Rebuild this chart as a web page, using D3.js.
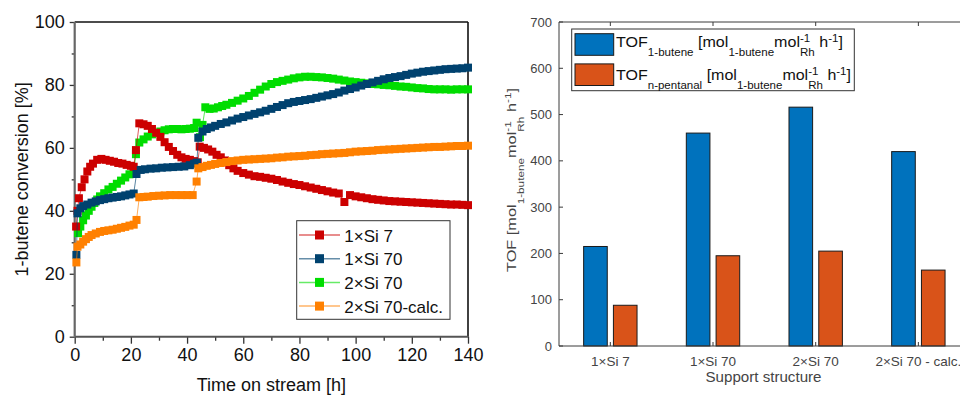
<!DOCTYPE html>
<html>
<head>
<meta charset="utf-8">
<script src="https://cdn.jsdelivr.net/npm/d3@7"></script>
<style>
  body { margin: 0; background: #fff; }
  text { font-family: "Liberation Sans", Arial, sans-serif; white-space: pre; }
</style>
</head>
<body>
<script>
// time on stream [h], conversion [%]
const si7 = [
  [0.5,35],[1,40],[1.5,44],[2.5,47.5],[3.5,50],[4.5,52.5],[5.5,54],[6.5,55],[8,56.2],[9.5,56.5],[11,56.2],[12.5,55.9],[14,55.6],[15.5,55.2],[17,55],[18.5,54.6],[20,54.3],[21,54],
  [21.8,59.3],[23,67.8],[24.5,67.5],[26,67],[27.5,66],[29,64.8],[30.5,63.5],[32,61.8],[33.5,60.3],[35,59],[36.5,57.8],[38,57],[39.5,56.5],[41,56.2],[42.5,55.8],[43.8,55.4],
  [44.5,60.4],[46,60],[47.5,59.5],[49,58.8],[50.5,57.8],[52,57],[53.5,56],[55,54.5],[56.5,53.5],[58,52.7],[60,52],[62,51.5],[64,51],[66,50.8],[68,50.5],[70,50.2],[72,49.8],[74,49.3],[76,48.9],[78,48.5],[80,48.2],[82,47.8],[84,47.4],[86,47],[88,46.6],[90,46.2],[92,45.8],[94,45.5],[96,42.8],[98,45],[100,44.6],[102,44.3],[104,44],[106,43.7],[108,43.5],[110,43.3],[112,43.1],[114,43],[116,42.9],[118,42.8],[120,42.7],[122,42.6],[124,42.5],[126,42.4],[128,42.3],[130,42.2],[132,42.1],[134,42],[136,42],[138,41.9],[140,41.8]
];
const si70 = [
  [0.6,26],[1,39.2],[2,40.8],[3,41.5],[4.5,42],[6,42.6],[7.5,43],[9,43.4],[10.5,43.7],[12,44],[13.5,44.2],[15,44.4],[16.5,44.6],[18,44.9],[19.5,45.2],[21,45.5],
  [22,51.7],[23.5,53],[25,53.2],[27,53.4],[29,53.5],[31,53.7],[33,53.8],[35,53.9],[37,54],[39,54.1],[41,54.5],[42.5,55],[43.5,55.3],
  [44,63.2],[45.5,65.2],[47,66],[48.5,66.5],[50,67],[52,67.6],[54,68.1],[56,68.7],[58,69.3],[60,69.8],[62,70.3],[64,70.8],[66,71.3],[68,71.8],[70,72.4],[72,73],[74,73.6],[76,74.2],[78,74.6],[80,74.9],[82,75.2],[84,75.5],[86,75.9],[88,76.3],[90,76.7],[92,77.1],[94,77.6],[96,78.2],[98,78.7],[100,79.2],[102,79.8],[104,80.3],[106,80.8],[108,81.3],[110,81.8],[112,82.2],[114,82.5],[116,82.8],[118,83.2],[120,83.6],[122,83.9],[124,84.2],[126,84.4],[128,84.6],[130,84.8],[132,85],[134,85.1],[136,85.2],[138,85.3],[140,85.5]
];
const si70x2 = [
  [1.2,32.9],[2,35],[3,37],[4,38.5],[5,40],[6,41.3],[7,42.5],[8,43.6],[9,44.6],[10.5,45.6],[12,46.8],[13.5,47.6],[15,48.6],[16.5,49.6],[18,50.6],[19.5,51.6],[21,52.6],
  [21.8,58],[23,61.7],[24.5,62.7],[26,63.6],[27.5,64.3],[29,64.8],[30.5,65.2],[32,65.6],[33.5,65.9],[35,66],[36.5,66],[38,65.9],[39.5,66],[41,66.1],[42.5,66.3],[43.4,68],
  [44.6,63.4],[45.5,67.3],[46.5,72.9],[48,72.4],[49.5,72.5],[51,72.9],[52.5,73.3],[54,73.7],[56,74.3],[58,75],[60,75.7],[62,76.5],[64,77.5],[66,78.5],[68,79.5],[70,80.3],[72,80.9],[74,81.3],[76,81.7],[78,82.1],[80,82.4],[82,82.6],[84,82.6],[86,82.5],[88,82.4],[90,82.2],[92,82],[94,81.7],[96,81.4],[98,81.1],[100,80.9],[102,80.7],[104,80.5],[106,80.3],[108,80.2],[110,80],[112,79.9],[114,79.7],[116,79.5],[118,79.4],[120,79.2],[122,79],[124,78.9],[126,78.7],[128,78.6],[130,78.6],[132,78.6],[134,78.5],[136,78.6],[138,78.6],[140,78.6]
];
const si70calc = [
  [0.6,23.6],[1,28.6],[2,29.3],[3,30.2],[4,31],[5,31.7],[6,32.3],[7.5,32.8],[9,33.3],[10.5,33.6],[12,33.8],[13.5,34],[15,34.3],[16.5,34.6],[18,34.9],[19.5,35.3],[21,35.6],[22,37.1],
  [23,44.3],[24.5,44.4],[26,44.5],[28,44.7],[30,44.8],[32,44.9],[34,45],[36,45],[38,45],[40,45],[42,45],[43.4,49.3],
  [44,53.5],[45.5,53.9],[47,54.3],[48.5,54.6],[50,54.9],[52,55.2],[54,55.5],[56,55.8],[58,56],[60,56.2],[62,56.3],[64,56.4],[66,56.5],[68,56.6],[70,56.7],[72,56.9],[74,57],[76,57.2],[78,57.3],[80,57.4],[82,57.5],[84,57.7],[86,57.8],[88,58],[90,58.1],[92,58.2],[94,58.3],[96,58.4],[98,58.6],[100,58.8],[102,58.9],[104,59],[106,59.1],[108,59.3],[110,59.4],[112,59.5],[114,59.6],[116,59.7],[118,59.8],[120,59.9],[122,60],[124,60.1],[126,60.2],[128,60.3],[130,60.3],[132,60.4],[134,60.5],[136,60.6],[138,60.6],[140,60.7]
];
const seriesNames = ["1\u00d7Si 7", "1\u00d7Si 70", "2\u00d7Si 70", "2\u00d7Si 70-calc."];
const seriesColors = ["#cc0000", "#00426f", "#00dd00", "#ff8000"];

// bar chart
const supports = ["1\u00d7Si 7", "1\u00d7Si 70", "2\u00d7Si 70", "2\u00d7Si 70 - calc."];
const tofButene = [215, 460, 516, 420];
const tofPentanal = [88, 195, 205, 164];
const barColors = ["#0072bd", "#d95319"];

const svg = d3.select("body").append("svg")
  .attr("width", 960).attr("height", 396);

// ---------- left: conversion vs time ----------
const x = d3.scaleLinear().domain([0, 140]).range([74.7, 468]);
const y = d3.scaleLinear().domain([0, 100]).range([336.7, 22]);

const left = svg.append("g");

const xAxis = left.append("g").attr("transform", `translate(0,${y(0)})`)
  .call(d3.axisBottom(x).tickValues(d3.range(0, 141, 20)).tickSize(7).tickPadding(5));
left.append("g").attr("transform", `translate(0,${y(0)})`)
  .call(d3.axisBottom(x).tickValues(d3.range(10, 140, 20)).tickSize(4).tickFormat(""));
const yAxis = left.append("g").attr("transform", `translate(${x(0)},0)`)
  .call(d3.axisLeft(y).tickValues(d3.range(0, 101, 20)).tickSize(5).tickPadding(5));
left.append("g").attr("transform", `translate(${x(0)},0)`)
  .call(d3.axisLeft(y).tickValues(d3.range(10, 100, 20)).tickSize(3).tickFormat(""));
left.selectAll(".domain").remove();
left.selectAll(".tick line").attr("stroke", "#333").attr("stroke-width", 1.3);
left.selectAll(".tick text").attr("font-size", 18).attr("fill", "#111")
  .style("font-family", "'Liberation Sans', Arial, sans-serif");

// frame
left.append("line").attr("x1", x(0)).attr("x2", x(140)).attr("y1", y(100)).attr("y2", y(100))
  .attr("stroke", "#111").attr("stroke-width", 1.4);
left.append("line").attr("x1", x(140)).attr("x2", x(140)).attr("y1", y(100)).attr("y2", y(0))
  .attr("stroke", "#111").attr("stroke-width", 1.6);
left.append("line").attr("x1", x(0)).attr("x2", x(140)).attr("y1", y(0)).attr("y2", y(0))
  .attr("stroke", "#555").attr("stroke-width", 2);
left.append("line").attr("x1", x(0)).attr("x2", x(0)).attr("y1", y(100)).attr("y2", y(0))
  .attr("stroke", "#666").attr("stroke-width", 2.2);

left.append("text").attr("x", (x(0) + x(140)) / 2).attr("y", 391)
  .attr("text-anchor", "middle").attr("font-size", 18).attr("fill", "#111")
  .text("Time on stream [h]");
left.append("text").attr("transform", `translate(28,${(y(0) + y(100)) / 2}) rotate(-90)`)
  .attr("text-anchor", "middle").attr("font-size", 18).attr("fill", "#111")
  .text("1-butene conversion [%]");

const line = d3.line().x(d => x(d[0])).y(d => y(d[1]));
const allSeries = [si7, si70, si70x2, si70calc];
const drawOrder = [2, 0, 1, 3];
const ms = 8;
drawOrder.forEach(i => {
  const g = left.append("g");
  g.append("path").datum(allSeries[i]).attr("d", line)
    .attr("fill", "none").attr("stroke", seriesColors[i]).attr("stroke-opacity", 0.65).attr("stroke-width", 1);
  g.selectAll("rect").data(allSeries[i]).join("rect")
    .attr("x", d => x(d[0]) - ms / 2).attr("y", d => y(d[1]) - ms / 2)
    .attr("width", ms).attr("height", ms).attr("fill", seriesColors[i]);
});

// legend
const lg = left.append("g");
lg.append("rect").attr("x", 296.7).attr("y", 220.7).attr("width", 153.3).attr("height", 98.6)
  .attr("fill", "#fff").attr("stroke", "#333").attr("stroke-width", 1);
seriesNames.forEach((n, i) => {
  const cy = 235 + i * 23.7;
  lg.append("line").attr("x1", 299).attr("x2", 340).attr("y1", cy).attr("y2", cy)
    .attr("stroke", seriesColors[i]).attr("stroke-opacity", 0.6).attr("stroke-width", 1.5);
  lg.append("rect").attr("x", 319.5 - 4.5).attr("y", cy - 4.5).attr("width", 9).attr("height", 9)
    .attr("fill", seriesColors[i]);
  lg.append("text").attr("x", 344.3).attr("y", cy + 6.6).attr("font-size", 17).attr("fill", "#111").text(n);
});

// ---------- right: TOF bars ----------
const xr = d3.scaleLinear().domain([0.5, 4.5]).range([559, 969.7]);
const yr = d3.scaleLinear().domain([0, 700]).range([346, 22]);
const axisCol = "#3a3a3a";
const right = svg.append("g");

const bw = xr(0.23) - xr(0);
const off = 0.145;
[tofButene, tofPentanal].forEach((vals, s) => {
  right.append("g").selectAll("rect").data(vals).join("rect")
    .attr("x", (d, i) => xr(i + 1 + (s === 0 ? -off : off)) - bw / 2)
    .attr("y", d => yr(d))
    .attr("width", bw).attr("height", d => yr(0) - yr(d))
    .attr("fill", barColors[s]).attr("stroke", "#1a1a1a").attr("stroke-width", 1);
});

// frame and ticks
right.append("path")
  .attr("d", `M${xr(4.5)},${yr(700)}H${xr(0.5)}V${yr(0)}H${xr(4.5)}`)
  .attr("fill", "none").attr("stroke", axisCol).attr("stroke-width", 1);
const yTicks = d3.range(0, 701, 100);
right.append("g").selectAll("line").data(yTicks).join("line")
  .attr("x1", xr(0.5)).attr("x2", xr(0.5) + 4).attr("y1", d => yr(d)).attr("y2", d => yr(d))
  .attr("stroke", axisCol);
right.append("g").selectAll("text").data(yTicks).join("text")
  .attr("x", 552).attr("y", d => yr(d) + 4.6).attr("text-anchor", "end")
  .attr("font-size", 13).attr("fill", "#444").text(d => d);
const cats = d3.range(1, 5);
right.append("g").selectAll("line").data(cats).join("line")
  .attr("x1", d => xr(d)).attr("x2", d => xr(d)).attr("y1", yr(0)).attr("y2", yr(0) - 4)
  .attr("stroke", axisCol);
right.append("g").selectAll("line").data(cats).join("line")
  .attr("x1", d => xr(d)).attr("x2", d => xr(d)).attr("y1", yr(700)).attr("y2", yr(700) + 4)
  .attr("stroke", axisCol);
right.append("g").selectAll("text").data(supports).join("text")
  .attr("x", (d, i) => xr(i + 1)).attr("y", 365.5).attr("text-anchor", "middle")
  .attr("font-size", 13.5).attr("fill", "#444").text(d => d);
right.append("text").attr("x", 763.5).attr("y", 382).attr("text-anchor", "middle")
  .attr("font-size", 14.5).attr("fill", "#444")
  .attr("textLength", 116).attr("lengthAdjust", "spacingAndGlyphs")
  .text("Support structure");

// rich text with sub/superscripts, laid out piece by piece
function rich(g, segs, fs, col) {
  let cx = 0, stackX = 0, stackW = 0;
  segs.forEach(s => {
    const small = s.sub || s.sup;
    const size = small ? fs * 0.72 : fs;
    const dy = s.sub ? fs * 0.62 : s.sup ? -fs * 0.33 : 0;
    const px = s.under ? stackX : cx;
    const t = g.append("text").attr("x", px).attr("y", dy)
      .attr("font-size", size).attr("fill", col).text(s.t);
    const w = t.node().getComputedTextLength();
    if (s.top) { stackX = cx; stackW = w; cx += w; }
    else if (s.under) { cx = Math.max(stackX + stackW, px + w); }
    else cx += w;
  });
  return cx;
}

const unitSegs = [
  { t: " [mol" }, { t: "1-butene", sub: true }, { t: "mol" },
  { t: "-1", sup: true, top: true }, { t: "Rh", sub: true, under: true },
  { t: " h" }, { t: "-1", sup: true }, { t: "]" }
];

// y label
const ylab = right.append("g");
const ylInner = ylab.append("g");
const ylw = rich(ylInner, [{ t: "TOF" }].concat(unitSegs), 13.5, "#444");
const ylTarget = 184;
ylab.attr("transform", `translate(515.5,180) rotate(-90) translate(${-ylTarget / 2},0)`);
ylInner.attr("transform", `scale(${ylTarget / ylw},1)`);

// legend
const rl = right.append("g");
rl.append("rect").attr("x", 571.7).attr("y", 29).attr("width", 282.6).attr("height", 61.7)
  .attr("fill", "#fff").attr("stroke", "#333").attr("stroke-width", 1);
const legRows = [
  { sub: "1-butene", base: 47, target: 227 },
  { sub: "n-pentanal", base: 79.5, target: 235 }
];
legRows.forEach((r, i) => {
  rl.append("rect").attr("x", 575).attr("y", 33.7 + i * 30.2).attr("width", 38.7).attr("height", 21.6)
    .attr("fill", barColors[i]).attr("stroke", "#1a1a1a").attr("stroke-width", 1);
  const g = rl.append("g");
  const inner = g.append("g");
  const w = rich(inner, [{ t: "TOF" }, { t: r.sub, sub: true }].concat(unitSegs), 15, "#111");
  g.attr("transform", `translate(616,${r.base})`);
  inner.attr("transform", `scale(${r.target / w},1)`);
});
</script>
</body>
</html>
